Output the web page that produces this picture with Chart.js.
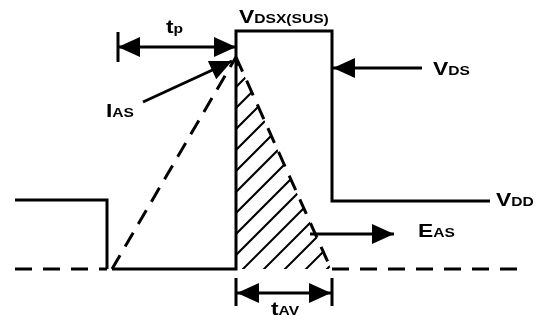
<!DOCTYPE html>
<html lang="en">
<head>
<meta charset="UTF-8">
<title>Avalanche waveform</title>
<script src="https://cdn.jsdelivr.net/npm/chart.js"></script>
<style>
  body { margin: 0; background: #fff; }
  .wrap { width: 538px; height: 326px; }
</style>
</head>
<body>
<div class="wrap"><canvas id="wave"></canvas></div>
<script>
// diagram units: x = time, y = level (0 at top, axis reversed)
const vdsTime   = [112, 236, 236, 332, 332, 490];
const vdsLevel  = [269, 269, 31, 31, 201, 201];
const gateTime  = [15, 107, 107];
const gateLevel = [200, 200, 269];
const baseLeftTime  = [15, 107];
const baseRightTime = [332, 525];
const baseLevel = [269, 269];
const iasRiseTime  = [112, 236];
const iasRiseLevel = [269, 57];
const iasFallTime  = [236, 331];
const iasFallLevel = [57, 269];

// dimension / pointer arrows
const tpTime = [118, 236],  tpLevel = [47, 47];
const tpBarTime = [118, 118], tpBarLevel = [32, 62];
const iasPtrTime = [143, 232], iasPtrLevel = [102, 61];
const vdsPtrTime = [422, 333], vdsPtrLevel = [68, 68];
const easPtrTime = [310, 394], easPtrLevel = [234, 234];
const tavTime = [237, 331], tavLevel = [293, 293];
const tavBarLevel = [278, 306];

const seg = (xs, ys) => xs.map((x, i) => ({ x: x, y: ys[i] }));

function line(xs, ys, extra) {
  return Object.assign({
    data: seg(xs, ys), showLine: true, borderColor: '#000', borderWidth: 3,
    pointRadius: 0, pointHoverRadius: 0, fill: false
  }, extra || {});
}

const labels = [
  { main: 'V', sub: 'DSX(SUS)', x: 239, y: 23 },
  { main: 'V', sub: 'DS', x: 433, y: 75 },
  { main: 'V', sub: 'DD', x: 496, y: 206 },
  { main: 'E', sub: 'AS', x: 418, y: 237 },
  { main: 'I', sub: 'AS', x: 106, y: 117 },
  { main: 't', sub: 'p', x: 166, y: 33 },
  { main: 't', sub: 'AV', x: 271, y: 315 }
];

// hatched area under the falling current edge
const hatch = {
  id: 'hatch',
  beforeDatasetsDraw(chart) {
    const { ctx, scales: { x, y } } = chart;
    const ax = x.getPixelForValue(iasFallTime[0]), ay = y.getPixelForValue(iasFallLevel[0]);
    const bx = x.getPixelForValue(iasFallTime[1]), by = y.getPixelForValue(iasFallLevel[1]);
    ctx.save();
    ctx.beginPath();
    ctx.moveTo(ax, ay); ctx.lineTo(bx, by); ctx.lineTo(ax, by); ctx.closePath();
    ctx.clip();
    ctx.strokeStyle = '#000';
    ctx.lineWidth = 2;
    ctx.beginPath();
    for (let c = 491 - 21 * 12; c < 640; c += 21) {
      ctx.moveTo(c - 400, 400); ctx.lineTo(c + 100, -100);
    }
    ctx.stroke();
    ctx.restore();
  }
};

const arrowHeads = {
  id: 'arrowHeads',
  afterDatasetsDraw(chart) {
    const ctx = chart.ctx;
    const head = (tip, from) => {
      const a = Math.atan2(tip.y - from.y, tip.x - from.x);
      const len = 22, hw = 10;
      ctx.beginPath();
      ctx.moveTo(tip.x, tip.y);
      ctx.lineTo(tip.x - len * Math.cos(a) + hw * Math.sin(a), tip.y - len * Math.sin(a) - hw * Math.cos(a));
      ctx.lineTo(tip.x - len * Math.cos(a) - hw * Math.sin(a), tip.y - len * Math.sin(a) + hw * Math.cos(a));
      ctx.closePath();
      ctx.fill();
    };
    ctx.save();
    ctx.fillStyle = '#000';
    chart.data.datasets.forEach((ds, i) => {
      if (!ds.arrow) return;
      const pts = chart.getDatasetMeta(i).data;
      head(pts[pts.length - 1], pts[pts.length - 2]);
      if (ds.arrow === 'both') head(pts[0], pts[1]);
    });
    ctx.restore();
  }
};

const textLabels = {
  id: 'textLabels',
  afterDraw(chart) {
    const { ctx, scales: { x, y } } = chart;
    ctx.save();
    ctx.fillStyle = '#000';
    ctx.textBaseline = 'alphabetic';
    labels.forEach(l => {
      ctx.save();
      ctx.translate(x.getPixelForValue(l.x), y.getPixelForValue(l.y));
      ctx.scale(1.2, 1);
      ctx.font = 'bold 19px "Liberation Sans", Arial, sans-serif';
      ctx.fillText(l.main, 0, 0);
      const w = ctx.measureText(l.main).width;
      ctx.font = 'bold 13px "Liberation Sans", Arial, sans-serif';
      ctx.fillText(l.sub, w, 0);
      ctx.restore();
    });
    ctx.restore();
  }
};

const dash = [17, 11];

new Chart(document.getElementById('wave'), {
  type: 'scatter',
  data: {
    datasets: [
      line(vdsTime, vdsLevel),
      line(gateTime, gateLevel),
      line(baseLeftTime, baseLevel, { borderDash: dash }),
      line(baseRightTime, baseLevel, { borderDash: dash }),
      line(iasRiseTime, iasRiseLevel, { borderDash: [16, 10] }),
      line(iasFallTime, iasFallLevel, { borderDash: [16, 10] }),
      line(tpTime, tpLevel, { arrow: 'both' }),
      line(tpBarTime, tpBarLevel),
      line(iasPtrTime, iasPtrLevel, { arrow: 'end' }),
      line(vdsPtrTime, vdsPtrLevel, { arrow: 'end' }),
      line(easPtrTime, easPtrLevel, { arrow: 'end' }),
      line(tavTime, tavLevel, { arrow: 'both' }),
      line([vdsTime[1], vdsTime[1]], tavBarLevel),
      line([vdsTime[3], vdsTime[3]], tavBarLevel)
    ]
  },
  options: {
    responsive: true,
    maintainAspectRatio: false,
    animation: false,
    layout: { padding: 0 },
    plugins: { legend: { display: false }, tooltip: { enabled: false } },
    scales: {
      x: { type: 'linear', min: 0, max: 538, display: false },
      y: { type: 'linear', min: 0, max: 326, reverse: true, display: false }
    }
  },
  plugins: [hatch, arrowHeads, textLabels]
});
</script>
</body>
</html>
